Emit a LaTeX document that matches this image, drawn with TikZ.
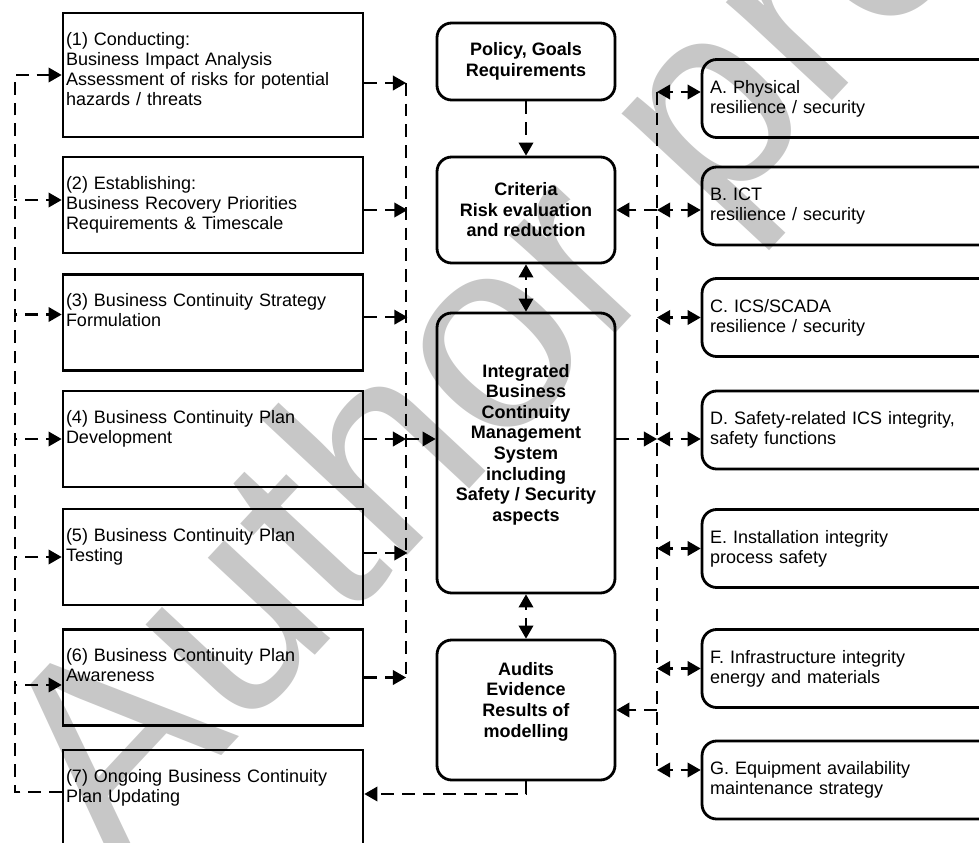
\documentclass[tikz,border=0pt]{standalone}
\usepackage{fontspec}
\setmainfont{Liberation Sans}
\usepackage{tikz}
\usetikzlibrary{arrows,calc}
\tikzstyle{l1}=[line width=1.7pt]
\tikzstyle{l2}=[line width=2.1pt]
\tikzstyle{dl}=[l1, dash pattern=on 9.5pt off 6pt, >=triangle 60]
\tikzstyle{lbox}=[rectangle, draw, l2, text width=220.5pt, align=left, inner xsep=2.25pt, inner ysep=13.5pt, text height=10.5pt, text depth=34.5pt]
\tikzstyle{cbox}=[rectangle, rounded corners=11pt, draw, l2, align=center, font=\fontsize{13.5}{15.4}\selectfont\bfseries, minimum width=133.5pt]
\tikzstyle{rbox}=[rectangle, rounded corners=11pt, draw, l2, text width=208pt, align=left, inner xsep=6pt, minimum height=58.5pt]
\tikzstyle{wm}=[text=black!22, font=\fontsize{205}{205}\selectfont, inner sep=0pt]

\begin{document}
\begin{tikzpicture}[x=0.75pt, y=-0.75pt, font=\fontsize{13.5}{15}\selectfont]
    \useasboundingbox (0,0) rectangle (979,843);
    % watermark
    \node[wm, rotate=47, anchor=base west] (wmark) at (115,870) {Author proof};

    % left column
    \node[lbox, text depth=55.5pt] at (213,75) (b1) {(1) Conducting:\\Business Impact Analysis\\Assessment of risks for potential\\hazards / threats};
    \node[lbox] at (213,205) (b2) {(2) Establishing:\\Business Recovery Priorities\\Requirements \& Timescale};
    \node[lbox] at (213,322.5) (b3) {(3) Business Continuity Strategy\\Formulation};
    \node[lbox] at (213,439) (b4) {(4) Business Continuity Plan\\Development};
    \node[lbox] at (213,557) (b5) {(5) Business Continuity Plan\\Testing};
    \node[lbox] at (213,677.5) (b6) {(6) Business Continuity Plan\\Awareness};
    \node[lbox, text depth=37.5pt] at (213,800) (b7) {(7) Ongoing Business Continuity\\Plan Updating};

    % centre column
    \node[cbox, minimum height=57.75pt] at (526,61.5) (policy) {Policy, Goals\\Requirements};
    \node[cbox, minimum height=79.5pt] at (526,210) (crit) {Criteria\\Risk evaluation\\and reduction};
    \node[cbox, minimum height=210pt] at (526,453) (integ) {Integrated\\Business\\Continuity\\Management\\System\\including\\Safety / Security\\aspects\\~};
    \node[cbox, minimum height=105pt] at (526,710) (audits) {Audits\\Evidence\\Results of\\modelling\\~};

    % right column
    \node[rbox] at (848.7,98.5) (rA) {A. Physical\\resilience / security};
    \node[rbox] at (848.7,206) (rB) {B. ICT\\resilience / security};
    \node[rbox] at (848.7,317.5) (rC) {C. ICS/SCADA\\resilience / security};
    \node[rbox] at (848.7,430) (rD) {D. Safety-related ICS integrity,\\safety functions};
    \node[rbox] at (848.7,548.5) (rE) {E. Installation integrity\\process safety};
    \node[rbox] at (848.7,668.5) (rF) {F. Infrastructure integrity\\energy and materials};
    \node[rbox] at (848.7,780) (rG) {G. Equipment availability\\maintenance strategy};

    % feedback from (7) to all steps
    \coordinate (fbtop) at (15,75);
    \draw[dl, ->] ([yshift=6pt]b7.west) -| (fbtop) -- (b1.west);
    \draw[dl, <-] ([yshift=3.75pt]b2.west) -- +(-48,0);
    \draw[dl, <-] ([yshift=6pt]b3.west) -- +(-48,0);
    \draw[dl, <-] (b4.west) -- +(-48,0);
    \draw[dl, <-] (b5.west) -- +(-48,0);
    \draw[dl, <-] ([yshift=-5.6pt]b6.west) -- +(-48,0);

    % steps into the management system
    \coordinate (cbtop) at (406,83);
    \draw[dl] (cbtop) -- (b6.east -| cbtop);
    \draw[dl, ->] ([yshift=-6pt]b1.east) -- (cbtop);
    \draw[dl, ->] ([yshift=-3.75pt]b2.east) -- +(43,0);
    \draw[dl, ->] ([yshift=4pt]b3.east) -- +(43,0);
    \draw[dl, ->] (b4.east) -- (b4.east -| cbtop);
    \draw[dl, ->] ([yshift=3pt]b5.east) -- +(43,0);
    \draw[dl, ->] (b6.east) -- (b6.east -| cbtop);
    \draw[dl, ->] (b4.east -| cbtop) -- (b4.east -| integ.west);

    \draw[dl, ->] (policy) -- (crit);
    \draw[dl, <->] (crit) -- (integ);
    \draw[dl, <->] (integ) -- (audits);
    \draw[dl, ->] (audits.south) |- ([yshift=4.5pt]b7.east);

    % right bus
    \coordinate (rbtop) at (657,92);
    \coordinate (rbbot) at (657,770);
    \draw[dl] (rbtop) -- (rbbot);
    \draw[dl, <->] (rbtop) -- (rbtop -| rA.west);
    \draw[dl, ->] (crit.east -| rbtop) -- (crit.east);
    \draw[dl, <->] (crit.east -| rbtop) -- (crit.east -| rB.west);
    \draw[dl, <->] (rC.west -| rbtop) -- (rC.west);
    \draw[dl, ->] (b4.east -| integ.east) -- (b4.east -| rbtop);
    \draw[dl, <->] (b4.east -| rbtop) -- (b4.east -| rD.west);
    \draw[dl, <->] (rE.west -| rbtop) -- (rE.west);
    \draw[dl, <->] (rF.west -| rbtop) -- (rF.west);
    \draw[dl, ->] (audits.east -| rbtop) -- (audits.east);
    \draw[dl, <->] (rbbot) -- (rbbot -| rG.west);
\end{tikzpicture}
\end{document}
